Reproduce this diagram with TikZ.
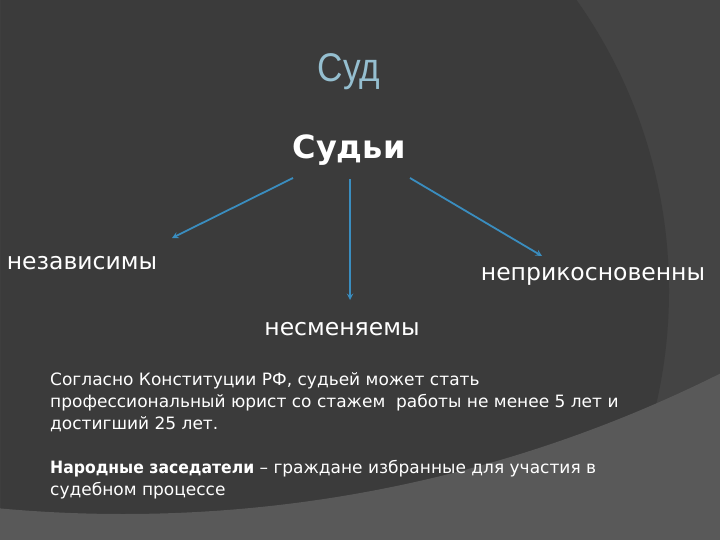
\documentclass[tikz,border=0pt]{standalone}
\usepackage{fontspec}
\setmainfont{DejaVu Sans}
\newfontfamily\narrowfont[FakeStretch=0.88]{Liberation Sans}
\newfontface\strongfont[FakeStretch=0.92]{DejaVu Sans Bold}
\definecolor{bgdark}{HTML}{3B3B3B}
\definecolor{bgmid}{HTML}{444444}
\definecolor{bglight}{HTML}{595959}
\definecolor{titleblue}{HTML}{95BFD0}
\definecolor{arrowblue}{HTML}{3A8DBF}

\begin{document}
\begin{tikzpicture}
    [x=1pt,y=-1pt,every node/.style={text=white,inner sep=0pt},
     link/.style={draw=arrowblue,line width=1.8pt,-stealth},
     trait/.style={font=\fontsize{23.5}{28}\selectfont}]
    \useasboundingbox (0,0) rectangle (720,540);
    \clip (0,0) rectangle (720,540);

    % background rings
    \fill[bgmid] (0,0) rectangle (720,540);
    \fill[bgdark] (165,291) circle [radius=504pt];
    \fill[bglight,even odd rule] (0,0) rectangle (720,540) (123,-823) circle [radius=1337pt];

    \node[text=titleblue,font=\narrowfont\fontsize{40}{44}\selectfont] (court) at (349,72) {Суд};
    \node[font=\bfseries\fontsize{32}{36}\selectfont] (judges) at (349,150) {Судьи};

    \node[trait] (indep) at (82,263) {независимы};
    \node[trait] (irrem) at (342,329) {несменяемы};
    \node[trait] (inviol) at (593,276) {неприкосновенны};

    \draw[link] ([shift={(-56,28)}]judges.center) -- ([shift={(90,-25)}]indep.center);
    \draw[link] ([shift={(1,29)}]judges.center) -- ([shift={(8,-29)}]irrem.center);
    \draw[link] ([shift={(61,28)}]judges.center) -- ([shift={(-51,-20)}]inviol.center);

    \node[anchor=north west,align=left,font=\fontsize{17}{22}\selectfont] (note) at (50,372)
      {Согласно Конституции РФ, судьей может стать\\
       профессиональный юрист со стажем\ \ работы не менее 5 лет и\\
       достигший 25 лет.\\[22pt]
       {\strongfont Народные заседатели} -- граждане избранные для участия в\\
       судебном процессе};
\end{tikzpicture}
\end{document}
